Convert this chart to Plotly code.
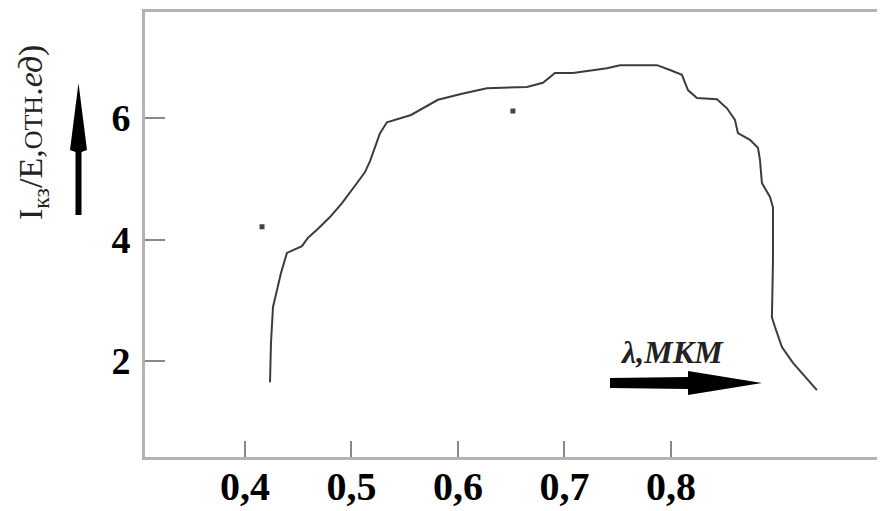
import plotly.graph_objects as go

# Spectral photosensitivity curve
wavelength = [0.4235, 0.4244, 0.4263, 0.4300, 0.4338, 0.4394, 0.4535, 0.4592, 0.4676, 0.4798,
              0.4911, 0.5052, 0.5127, 0.5174, 0.5221, 0.5268, 0.5333, 0.5559, 0.5812, 0.6038,
              0.6272, 0.6648, 0.6798, 0.6911, 0.7080, 0.7399, 0.7521, 0.7869, 0.7991, 0.8103,
              0.8160, 0.8244, 0.8432, 0.8526, 0.8601, 0.8629, 0.8742, 0.8817, 0.8836, 0.8854,
              0.8930, 0.8958, 0.8958, 0.8948, 0.8977, 0.9042, 0.9146, 0.9371]
intensity = [1.65, 2.30, 2.89, 3.17, 3.45, 3.78, 3.89, 4.03, 4.16, 4.37,
             4.60, 4.93, 5.11, 5.29, 5.52, 5.75, 5.93, 6.05, 6.30, 6.40,
             6.49, 6.51, 6.58, 6.74, 6.74, 6.82, 6.87, 6.87, 6.79, 6.71,
             6.46, 6.33, 6.31, 6.16, 5.97, 5.75, 5.64, 5.51, 5.31, 4.93,
             4.70, 4.53, 3.66, 2.72, 2.56, 2.23, 1.97, 1.52]

# isolated specks in the scan
speck_x = [0.416, 0.6516]
speck_y = [4.21, 6.115]

x_ticks = [0.4, 0.5, 0.6, 0.7, 0.8]
x_ticktext = ["0,4", "0,5", "0,6", "0,7", "0,8"]
y_ticks = [2, 4, 6]
y_ticktext = ["2", "4", "6"]

# page body has an 8px margin; size the figure so it fills the 885x511 window
OFF = 8
W, H = 885 - OFF, 511 - OFF
L, R, T, B = 145 - OFF, 0, 12 - OFF, 54
PW, PH = W - L - R, H - T - B


def px(x):
    return (x - OFF - L) / PW


def py(y):
    return (H - B - (y - OFF)) / PH


def path(points):
    return "M " + " L ".join(f"{px(a):.5f},{py(b):.5f}" for a, b in points) + " Z"


fig = go.Figure()
fig.add_trace(go.Scatter(x=wavelength, y=intensity, mode="lines",
                         line=dict(color="#3c3c3c", width=2), showlegend=False))
fig.add_trace(go.Scatter(x=speck_x, y=speck_y, mode="markers",
                         marker=dict(color="#444", size=5, symbol="square"), showlegend=False))

up_arrow = [(75.5, 215), (81.5, 215), (81.5, 152), (87, 150), (78.5, 83), (70, 150), (75.5, 152)]
right_arrow = [(610, 378), (688, 377), (688, 371), (762, 383), (688, 395), (688, 389), (610, 388)]

fig.update_layout(
    width=W, height=H, autosize=False,
    margin=dict(l=L, r=R, t=T, b=B),
    plot_bgcolor="white", paper_bgcolor="white",
    xaxis=dict(range=[0.3061, 1.001], tickvals=x_ticks, ticktext=x_ticktext,
               ticks="inside", ticklen=16, tickwidth=2, tickcolor="#888",
               showline=True, linecolor="#b3b3b3", linewidth=3, mirror=True,
               showgrid=False, zeroline=False, automargin=False,
               tickfont=dict(family="Liberation Serif", size=40, color="black", weight="bold"),
               ticklabelstandoff=-8),
    yaxis=dict(range=[0.42, 7.745], tickvals=y_ticks, ticktext=y_ticktext,
               ticks="inside", ticklen=20, tickwidth=2, tickcolor="#888",
               showline=True, linecolor="#b3b3b3", linewidth=3,
               showgrid=False, zeroline=False, automargin=False,
               tickfont=dict(family="Liberation Serif", size=38, color="black", weight="bold"),
               ticklabelstandoff=4),
    shapes=[
        dict(type="path", xref="paper", yref="paper", path=path(up_arrow),
             fillcolor="black", line=dict(width=0)),
        dict(type="path", xref="paper", yref="paper", path=path(right_arrow),
             fillcolor="black", line=dict(width=0)),
    ],
    annotations=[
        dict(xref="paper", yref="paper", x=px(33), y=py(133), textangle=-90,
             text="I<sub>кз</sub>/E,<span style='font-size:26px'>ОТН</span>.<i>ед</i>)",
             showarrow=False, font=dict(family="Liberation Serif", size=34, color="#222"),
             xanchor="center", yanchor="middle"),
        dict(xref="paper", yref="paper", x=px(672), y=py(352),
             text="<b><i>λ,МКМ</i></b>", showarrow=False,
             font=dict(family="Liberation Serif", size=32, color="#222"),
             xanchor="center", yanchor="middle"),
    ],
)

fig.write_html("out.html")
